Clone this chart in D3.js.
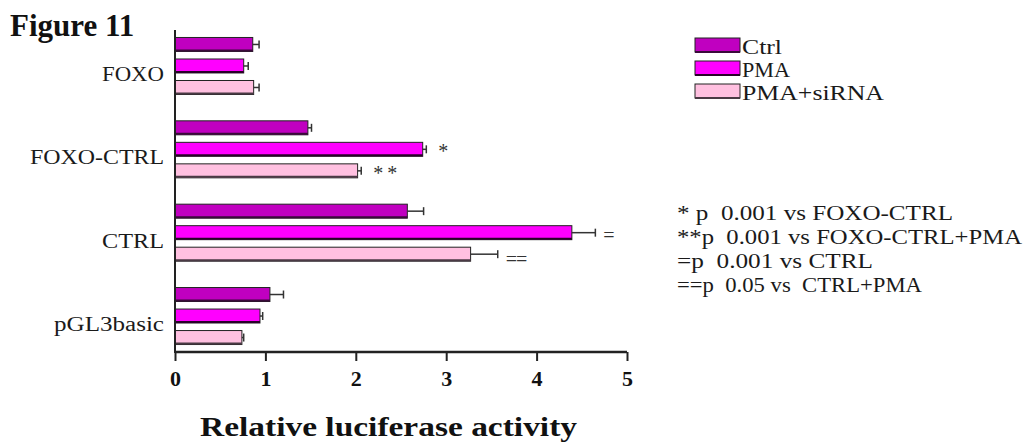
<!DOCTYPE html>
<html><head><meta charset="utf-8">
<script src="https://cdn.jsdelivr.net/npm/d3@7"></script>
<style>
body{margin:0;background:#fff;}
svg text{font-family:"Liberation Serif","Times New Roman",serif;white-space:pre;}
</style></head>
<body><svg id="c" width="1032" height="442"></svg>
<script>
const categories = ["FOXO","FOXO-CTRL","CTRL","pGL3basic"];
const series = ["Ctrl","PMA","PMA+siRNA"];
const ctrlValues = [0.86, 1.47, 2.57, 1.05];
const ctrlErrors = [0.07, 0.04, 0.18, 0.15];
const pmaValues = [0.76, 2.74, 4.39, 0.94];
const pmaErrors = [0.05, 0.04, 0.26, 0.03];
const sirnaValues = [0.87, 2.02, 3.27, 0.74];
const sirnaErrors = [0.06, 0.04, 0.30, 0.02];
const seriesColors = ["#C000C0","#FF00FF","#FFC0E0"];
const shadowColors = ["#3a0a3a","#2a002a","#4a3a44"];
const xTicks = [0,1,2,3,4,5];
const sigMarks = [
  {cat:"FOXO-CTRL", ser:"PMA", mark:"*"},
  {cat:"FOXO-CTRL", ser:"PMA+siRNA", mark:"**"},
  {cat:"CTRL", ser:"PMA", mark:"="},
  {cat:"CTRL", ser:"PMA+siRNA", mark:"=="}
];
const footnotes = ["* p  0.001 vs FOXO-CTRL","**p  0.001 vs FOXO-CTRL+PMA","=p  0.001 vs CTRL","==p  0.05 vs  CTRL+PMA"];

const valuesBySeries = [ctrlValues, pmaValues, sirnaValues];
const errorsBySeries = [ctrlErrors, pmaErrors, sirnaErrors];
const data = [];
categories.forEach((c,i)=>series.forEach((s,j)=>data.push({cat:c, ser:s, si:j, v:valuesBySeries[j][i], e:errorsBySeries[j][i]})));

const svg = d3.select("#c");
const x = d3.scaleLinear().domain([0,5]).range([175,627]);
const y = d3.scaleBand().domain(categories).range([24.3,357.7]);
const yi = d3.scaleBand().domain(series)
  .range([y.bandwidth()/2-28.5, y.bandwidth()/2+28.5]).paddingInner(0.35).paddingOuter(0);

// Title
svg.append("text").attr("x",10).attr("y",36).attr("font-size",31).attr("font-weight","bold")
  .attr("fill","#111").text("Figure 11");

// Bars
const g = svg.append("g");
const bars = g.selectAll("g.bar").data(data).enter().append("g");
bars.append("rect")
  .attr("x",x(0)).attr("y",d=>y(d.cat)+yi(d.ser))
  .attr("width",d=>x(d.v)-x(0)).attr("height",yi.bandwidth())
  .attr("fill",d=>seriesColors[d.si]).attr("stroke","#222").attr("stroke-width",1);
bars.append("line")
  .attr("x1",x(0)).attr("x2",d=>x(d.v))
  .attr("y1",d=>y(d.cat)+yi(d.ser)+yi.bandwidth()-1)
  .attr("y2",d=>y(d.cat)+yi(d.ser)+yi.bandwidth()-1)
  .attr("stroke",d=>shadowColors[d.si]).attr("stroke-width",2);
// error bars
bars.append("line")
  .attr("x1",d=>x(d.v)).attr("x2",d=>x(d.v+d.e))
  .attr("y1",d=>y(d.cat)+yi(d.ser)+yi.bandwidth()/2)
  .attr("y2",d=>y(d.cat)+yi(d.ser)+yi.bandwidth()/2)
  .attr("stroke","#333").attr("stroke-width",1.5);
bars.append("line")
  .attr("x1",d=>x(d.v+d.e)).attr("x2",d=>x(d.v+d.e))
  .attr("y1",d=>y(d.cat)+yi(d.ser)+yi.bandwidth()/2-4)
  .attr("y2",d=>y(d.cat)+yi(d.ser)+yi.bandwidth()/2+4)
  .attr("stroke","#333").attr("stroke-width",1.5);

// significance marks
sigMarks.forEach(m=>{
  const d = data.find(q=>q.cat===m.cat && q.ser===m.ser);
  const star = m.mark.startsWith("*");
  svg.append("text")
    .attr("x",x(d.v+d.e)+ (star?12:8)).attr("y",y(d.cat)+yi(d.ser)+yi.bandwidth()/2+ (star?9:(m.mark==="="?9:12)))
    .attr("font-size",star?20:20).attr("fill","#333")
    .attr("letter-spacing", m.mark==="**"?4:(m.mark==="=="?-1:0))
    .text(m.mark);
});

// Axes
const xAxis = d3.axisBottom(x).tickValues(xTicks).tickSize(9).tickFormat(d3.format("d"));
const xa = svg.append("g").attr("transform","translate(0,352)").call(xAxis);
xa.select(".domain").attr("stroke","#222").attr("stroke-width",2.5).attr("d","M175,0H627");
xa.selectAll(".tick line").attr("stroke","#222").attr("stroke-width",2);
xa.selectAll(".tick text").attr("font-family","Liberation Serif, serif").attr("font-weight","bold")
  .attr("font-size",22).attr("fill","#111").attr("y",18).attr("dy","0.71em");

svg.append("line").attr("x1",175).attr("x2",175).attr("y1",30).attr("y2",353)
  .attr("stroke","#222").attr("stroke-width",2);

// Category labels
svg.selectAll("text.cat").data(categories).enter().append("text")
  .attr("x",164).attr("y",d=>y(d)+y.bandwidth()/2+15)
  .attr("text-anchor","end").attr("font-size",20).attr("fill","#1a1a1a")
  .attr("textLength",d=>({"FOXO":62,"FOXO-CTRL":134,"CTRL":62,"pGL3basic":110})[d])
  .attr("lengthAdjust","spacingAndGlyphs")
  .text(d=>d);

// X axis title
svg.append("text").attr("x",200).attr("y",436).attr("font-size",28).attr("font-weight","bold")
  .attr("fill","#111")
  .attr("textLength",377).attr("lengthAdjust","spacingAndGlyphs").text("Relative luciferase activity");

// Legend
const lg = svg.append("g");
const legendWidths = [40,48,142];
series.forEach((s,j)=>{
  const yy = 38 + j*23;
  lg.append("rect").attr("x",695).attr("y",yy).attr("width",45).attr("height",14)
    .attr("fill",seriesColors[j]).attr("stroke","#222").attr("stroke-width",1);
  lg.append("line").attr("x1",695).attr("x2",740).attr("y1",yy+14).attr("y2",yy+14)
    .attr("stroke",shadowColors[j]).attr("stroke-width",2);
  lg.append("text").attr("x",742).attr("y",yy+16).attr("font-size",21).attr("fill","#1a1a1a")
    .attr("textLength",legendWidths[j]).attr("lengthAdjust","spacingAndGlyphs").text(s);
});

// Footnotes
const footWidths = [276,345,196,245];
footnotes.forEach((t,i)=>{
  svg.append("text").attr("x",677).attr("y",220+i*24).attr("font-size",20).attr("fill","#1a1a1a")
    .attr("textLength",footWidths[i]).attr("lengthAdjust","spacingAndGlyphs").text(t);
});
</script></body></html>
